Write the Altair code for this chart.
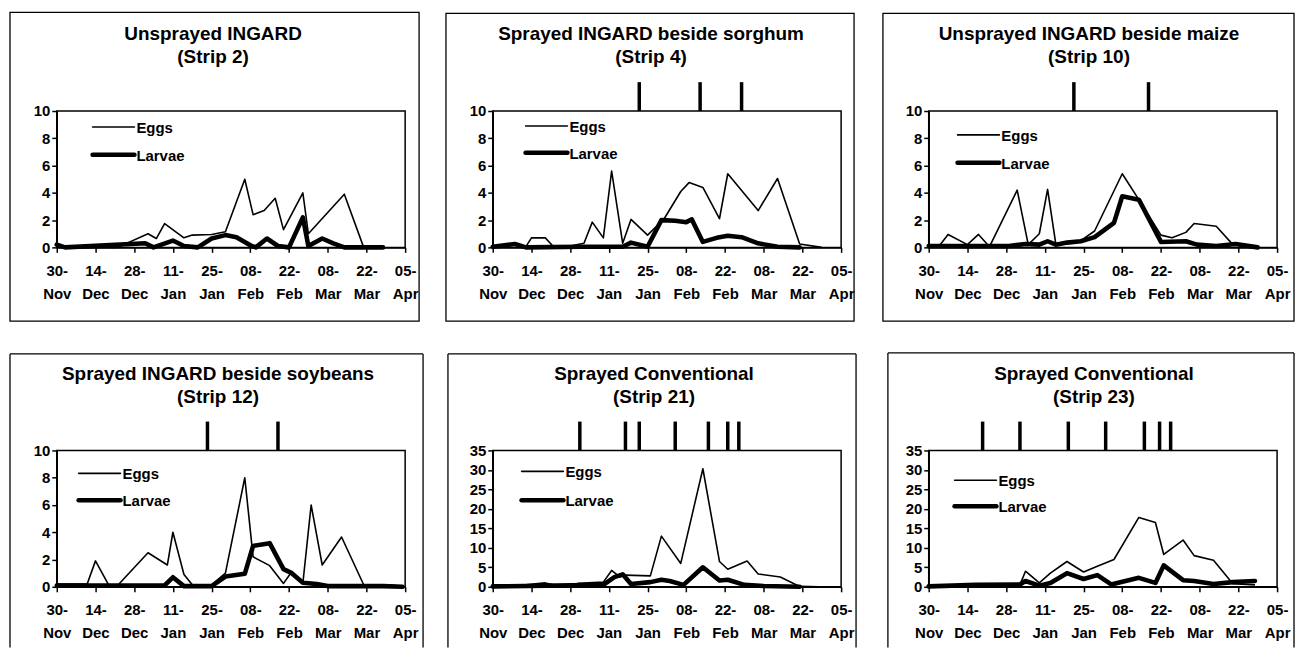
import altair as alt
import pandas as pd

# ---------------- data ----------------
tick_days = [0, 14, 28, 42, 56, 70, 84, 98, 112, 126]          # days since 30 Nov
tick_top = ["30-", "14-", "28-", "11-", "25-", "08-", "22-", "08-", "22-", "05-"]
tick_bottom = ["Nov", "Dec", "Dec", "Jan", "Jan", "Feb", "Feb", "Mar", "Mar", "Apr"]
series_names = ["Eggs", "Larvae"]

titles = [
    ["Unsprayed INGARD", "(Strip 2)"],
    ["Sprayed INGARD beside sorghum", "(Strip 4)"],
    ["Unsprayed INGARD beside maize", "(Strip 10)"],
    ["Sprayed INGARD beside soybeans", "(Strip 12)"],
    ["Sprayed Conventional", "(Strip 21)"],
    ["Sprayed Conventional", "(Strip 23)"],
]

# Strip 2
s2_egg_days = [0, 3, 22, 33, 36, 39, 46, 49, 56, 61, 68, 71, 75, 79, 82, 89, 91, 104, 111, 118]
s2_egg_vals = [0.3, 0, 0, 1.0, 0.65, 1.75, 0.7, 0.9, 0.95, 1.15, 5.0, 2.4, 2.7, 3.6, 1.3, 4.0, 1.0, 3.9, 0, 0]
s2_lar_days = [0, 3, 32, 35, 42, 46, 51, 56, 61, 65, 70, 72, 76, 80, 84, 89, 91, 96, 100, 104, 118]
s2_lar_vals = [0.2, 0, 0.3, 0, 0.5, 0.1, 0, 0.65, 0.9, 0.75, 0.15, 0, 0.65, 0.1, 0, 2.2, 0.1, 0.65, 0.3, 0, 0]
s2_spray = []

# Strip 4
s4_egg_days = [0, 4, 8, 12, 14, 19, 22, 28, 33, 36, 40, 43, 47, 50, 56, 62, 68, 71, 76, 82, 85, 96, 103, 111, 119]
s4_egg_vals = [0.1, 0.1, 0.25, 0.05, 0.7, 0.7, 0.05, 0.1, 0.3, 1.85, 0.7, 5.6, 0.3, 2.05, 0.9, 2.1, 4.1, 4.75, 4.4, 2.1, 5.4, 2.7, 5.05, 0.25, 0]
s4_lar_days = [0, 8, 12, 32, 47, 50, 56, 61, 66, 70, 72, 76, 81, 85, 90, 96, 103, 111]
s4_lar_vals = [0.05, 0.25, 0, 0.05, 0.05, 0.35, 0.05, 2.0, 1.95, 1.85, 2.05, 0.4, 0.7, 0.85, 0.75, 0.3, 0.05, 0]
s4_spray = [53, 75, 90]

# Strip 10
s10_egg_days = [0, 4, 7, 14, 18, 22, 32, 36, 40, 43, 46, 49, 55, 60, 70, 76, 84, 88, 93, 96, 104, 110, 119]
s10_egg_vals = [0.15, 0.15, 0.95, 0.2, 0.95, 0.05, 4.2, 0.2, 1.0, 4.25, 0.2, 0.35, 0.5, 1.2, 5.4, 3.5, 0.9, 0.7, 1.1, 1.75, 1.55, 0.2, 0]
s10_lar_days = [0, 29, 35, 40, 43, 46, 50, 55, 60, 67, 70, 76, 84, 93, 97, 104, 111, 119]
s10_lar_vals = [0.1, 0.1, 0.25, 0.2, 0.45, 0.2, 0.35, 0.45, 0.75, 1.8, 3.75, 3.5, 0.4, 0.45, 0.2, 0.1, 0.25, 0]
s10_spray = [52.5, 79.5]

# Strip 12
s12_egg_days = [0, 11, 14, 19, 22, 33, 40, 42, 46, 49, 56, 61, 68, 71, 77, 82, 85, 89, 92, 96, 103, 111, 118, 125]
s12_egg_vals = [0.2, 0.2, 1.9, 0.05, 0.1, 2.5, 1.6, 4.0, 0.9, 0.15, 0.15, 1.0, 8.0, 2.2, 1.55, 0.25, 1.1, 0.25, 6.0, 1.6, 3.65, 0.15, 0.15, 0.05]
s12_lar_days = [0, 39, 42, 46, 56, 61, 68, 71, 77, 82, 85, 89, 94, 98, 118, 125]
s12_lar_vals = [0.1, 0.1, 0.7, 0.05, 0.05, 0.75, 0.95, 3.0, 3.2, 1.3, 1.0, 0.3, 0.2, 0.05, 0.05, 0]
s12_spray = [54.5, 80]

# Strip 21
s21_egg_days = [0, 12, 19, 22, 29, 31, 40, 43, 46, 48, 57, 61, 68, 76, 82, 85, 92, 96, 104, 111, 118]
s21_egg_vals = [0.2, 0.5, 1.0, 0.5, 0.5, 0.9, 1.2, 4.2, 2.5, 3.0, 2.8, 13.0, 6.0, 30.3, 6.5, 4.5, 6.6, 3.3, 2.5, 0.1, 0]
s21_lar_days = [0, 40, 44, 47, 50, 57, 61, 64, 69, 76, 82, 85, 91, 98, 111]
s21_lar_vals = [0.1, 0.5, 2.5, 3.2, 0.7, 1.2, 1.8, 1.5, 0.5, 5.0, 1.6, 1.8, 0.5, 0.2, 0]
s21_spray = [31.5, 48, 53, 66, 78, 85, 89]

# Strip 23
s23_egg_days = [0, 11, 17, 33, 35, 40, 44, 50, 56, 61, 67, 76, 82, 85, 92, 96, 103, 110, 118]
s23_egg_vals = [0.1, 0.5, 0.3, 0.5, 4.0, 1.0, 3.5, 6.5, 3.8, 5.3, 7.0, 17.8, 16.5, 8.3, 12.0, 8.0, 6.8, 0.8, 0.5]
s23_lar_days = [0, 17, 33, 35, 40, 44, 50, 56, 61, 66, 76, 82, 85, 92, 96, 103, 110, 118]
s23_lar_vals = [0.1, 0.5, 0.6, 1.5, 0.3, 1.0, 3.5, 2.0, 3.0, 0.6, 2.3, 1.0, 5.5, 1.7, 1.5, 0.7, 1.2, 1.5]
s23_spray = [19.5, 33, 50.5, 64, 78, 83.5, 87.5]

# ---------------- layout / style ----------------
W, H = 350, 137
FONT = "Liberation Sans"
EGG_W, LAR_W = 1.6, 4.6

label_expr = "[" + ",".join(f"['{a}','{b}']" for a, b in zip(tick_top, tick_bottom)) + "][round(datum.value/14)]"


def panel(title, dx, egg_days, egg_vals, lar_days, lar_vals, spray, ymax, ystep,
          leg, box, open_bottom):
    df = pd.concat([
        pd.DataFrame({"day": egg_days, "count": egg_vals, "series": series_names[0]}),
        pd.DataFrame({"day": lar_days, "count": lar_vals, "series": series_names[1]}),
    ], ignore_index=True)

    x = alt.X("day:Q", scale=alt.Scale(domain=[0, 126], nice=False, zero=False),
              axis=alt.Axis(values=tick_days, labelExpr=label_expr, title=None))
    y = alt.Y("count:Q", scale=alt.Scale(domain=[0, ymax], nice=False),
              axis=alt.Axis(values=list(range(0, ymax + 1, ystep)), title=None))

    base = alt.Chart(df)
    eggs = base.transform_filter(alt.datum.series == series_names[0]).mark_line(
        color="black", strokeWidth=EGG_W, strokeJoin="round").encode(x=x, y=y)
    larvae = base.transform_filter(alt.datum.series == series_names[1]).mark_line(
        color="black", strokeWidth=LAR_W, strokeJoin="round", strokeCap="round").encode(x=x, y=y)
    layers = [eggs, larvae]

    if spray:
        sdf = pd.DataFrame({"day": spray})
        layers.append(alt.Chart(sdf).mark_rule(color="black", strokeWidth=3.5).encode(
            x=x, y=alt.value(-29), y2=alt.value(0)))

    # legend
    lx, ly0, ly1 = leg
    for name, w, ly in [(series_names[0], EGG_W, ly0), (series_names[1], LAR_W, ly1)]:
        one = pd.DataFrame({"series": [name]})
        layers.append(alt.Chart(one).mark_rule(color="black", strokeWidth=w, strokeCap="round").encode(
            x=alt.value(lx), x2=alt.value(lx + 42), y=alt.value(ly)))
        layers.append(alt.Chart(one).mark_text(
            align="left", baseline="middle", fontSize=15, fontWeight="bold", font=FONT, color="black"
        ).encode(x=alt.value(lx + 44), y=alt.value(ly + 1), text="series:N"))

    # panel title (two lines) drawn inside the panel frame
    tdf = pd.DataFrame({"k": [1]})
    layers.append(alt.Chart(tdf).mark_text(
        align="center", baseline="alphabetic", fontSize=19, fontWeight="bold", font=FONT,
        color="black", lineHeight=23
    ).encode(x=alt.value(W / 2 + dx), y=alt.value(-71), text=alt.value(title)))

    # panel frame
    bl, br, bt, bb = box
    one = pd.DataFrame({"k": [1]})
    if not open_bottom:
        layers.append(alt.Chart(one).mark_rect(filled=False, stroke="black", strokeWidth=1.3).encode(
            x=alt.value(bl), x2=alt.value(W + br), y=alt.value(bt), y2=alt.value(H + bb)))
    else:
        layers.append(alt.Chart(one).mark_rule(color="black", strokeWidth=1.3).encode(
            x=alt.value(bl), x2=alt.value(W + br), y=alt.value(bt)))
        layers.append(alt.Chart(one).mark_rule(color="black", strokeWidth=1.3).encode(
            x=alt.value(bl), y=alt.value(bt), y2=alt.value(H + bb)))
        layers.append(alt.Chart(one).mark_rule(color="black", strokeWidth=1.3).encode(
            x=alt.value(W + br), y=alt.value(bt), y2=alt.value(H + bb)))

    return alt.layer(*layers).properties(width=W, height=H)


p1 = panel(titles[0], -18, s2_egg_days, s2_egg_vals, s2_lar_days, s2_lar_vals, s2_spray, 10, 2,
           (36, 16, 44), (-47, 14, -99, 74), False)
p2 = panel(titles[1], -16, s4_egg_days, s4_egg_vals, s4_lar_days, s4_lar_vals, s4_spray, 10, 2,
           (33, 15, 42), (-47, 13, -98, 74), False)
p3 = panel(titles[2], -14, s10_egg_days, s10_egg_vals, s10_lar_days, s10_lar_vals, s10_spray, 10, 2,
           (29, 24, 52), (-46, 17, -98, 74), False)
p4 = panel(titles[3], -13, s12_egg_days, s12_egg_vals, s12_lar_days, s12_lar_vals, s12_spray, 10, 2,
           (22, 23, 50), (-47, 18, -97, 61), True)
p5 = panel(titles[4], -13, s21_egg_days, s21_egg_vals, s21_lar_days, s21_lar_vals, s21_spray, 35, 5,
           (29, 21, 50), (-45, 15, -97, 61), True)
p6 = panel(titles[5], -9, s23_egg_days, s23_egg_vals, s23_lar_days, s23_lar_vals, s23_spray, 35, 5,
           (26, 30, 56), (-41, 17, -98, 61), True)

chart = alt.concat(p1, p2, p3, p4, p5, p6, columns=3,
                   spacing={"row": 204, "column": 88}, bounds="flush").properties(
    padding={"left": 0, "top": 1, "right": 0, "bottom": 0},
    background="white",
).configure_view(
    stroke="black", strokeWidth=1.5
).configure_axis(
    labelFont=FONT, labelFontSize=15, labelFontWeight="bold", labelColor="black",
    domainColor="black", domainWidth=1.5, tickColor="black", tickWidth=1.5, tickSize=5,
    grid=False,
).configure_axisX(
    labelPadding=11, labelLineHeight=23, labelAngle=0, labelOverlap=False, labelFlush=False,
).configure_axisY(
    labelPadding=2, labelBaseline="middle", labelOverlap=False,
)

chart.save("out.html", embed_options={"renderer": "svg", "actions": False})
